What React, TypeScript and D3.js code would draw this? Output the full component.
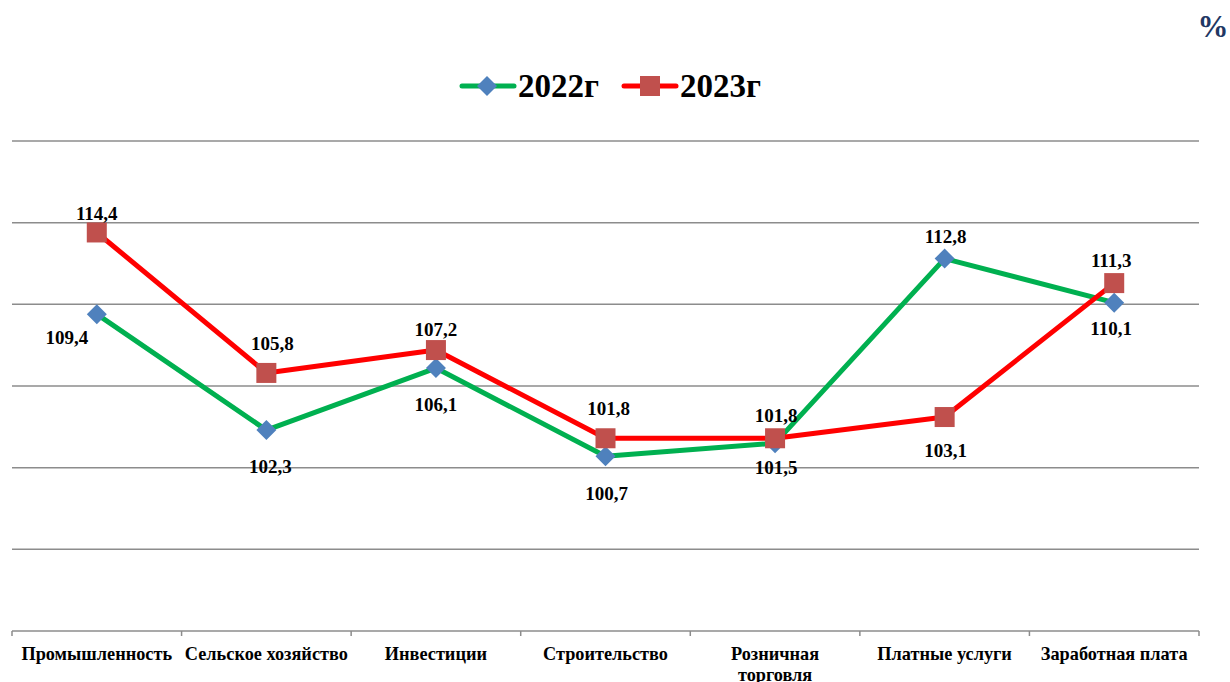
import React from "react";
import * as d3 from "d3";

const categories = [
  "Промышленность",
  "Сельское хозяйство",
  "Инвестиции",
  "Строительство",
  "Розничная торговля",
  "Платные услуги",
  "Заработная плата",
];
const values2022 = [109.4, 102.3, 106.1, 100.7, 101.5, 112.8, 110.1];
const values2023 = [114.4, 105.8, 107.2, 101.8, 101.8, 103.1, 111.3];
const yTicks = [90, 95, 100, 105, 110, 115, 120];
// label placement offsets (dx, dy from marker, pixels)
const labelOff2022: [number, number][] = [[-30, 23], [4, 36], [0, 36], [1, 37], [1, 24], [1, -22], [-3, 26]];
const labelOff2023: [number, number][] = [[0, -19], [6, -30], [0, -21], [3, -30], [1, -23], [1, 33], [-3, -23]];

const W = 1230;
const H = 682;
const FONT = "'Liberation Serif', 'Times New Roman', serif";

export default function App() {
  const x = d3.scaleBand<string>().domain(categories).range([12, 1199]);
  const y = d3.scaleLinear().domain([90, 120]).range([631, 141]);
  const cx = (c: string) => (x(c) as number) + x.bandwidth() / 2;
  const line = d3
    .line<number>()
    .x((_, i) => cx(categories[i]))
    .y((d) => y(d));
  const fmt = (v: number) => v.toFixed(1).replace(".", ",");
  const diamond = (px: number, py: number, r: number) =>
    `M${px},${py - r}L${px + r},${py}L${px},${py + r}L${px - r},${py}Z`;
  const boundaries = [...categories.map((c) => x(c) as number), 1199];

  return (
    <svg width={W} height={H} style={{ position: "absolute", left: 0, top: 0, background: "#fff" }}>
      <style>{`body{margin:0}`}</style>
      {/* gridlines */}
      {yTicks.slice(1).map((t) => (
        <line key={t} x1={12} x2={1199} y1={y(t)} y2={y(t)} stroke="#8c8c8c" strokeWidth={1.5} />
      ))}
      {/* x axis */}
      <line x1={12} x2={1199} y1={y(90)} y2={y(90)} stroke="#8c8c8c" strokeWidth={1.5} />
      {boundaries.map((b, i) => (
        <line key={i} x1={b} x2={b} y1={y(90)} y2={y(90) + 5} stroke="#8c8c8c" strokeWidth={1.5} />
      ))}
      {categories.map((c) => {
        const parts = c === "Розничная торговля" ? ["Розничная", "торговля"] : [c];
        return (
          <text key={c} x={cx(c)} y={660} textAnchor="middle" fontFamily={FONT} fontWeight="bold" fontSize={18.3} fill="#000">
            {parts.map((p, i) => (
              <tspan key={i} x={cx(c)} dy={i === 0 ? 0 : 21}>
                {p}
              </tspan>
            ))}
          </text>
        );
      })}
      {/* lines */}
      <path d={line(values2022) || ""} fill="none" stroke="#00b050" strokeWidth={5} strokeLinejoin="round" />
      <path d={line(values2023) || ""} fill="none" stroke="#ff0000" strokeWidth={5} strokeLinejoin="round" />
      {values2022.map((v, i) => (
        <path key={"d" + i} d={diamond(cx(categories[i]), y(v), 10)} fill="#4f81bd" />
      ))}
      {values2023.map((v, i) => (
        <rect key={"s" + i} x={cx(categories[i]) - 10} y={y(v) - 10} width={20} height={20} fill="#c0504d" />
      ))}
      {/* labels */}
      {values2022.map((v, i) => (
        <text key={"l2" + i} x={cx(categories[i]) + labelOff2022[i][0]} y={y(v) + labelOff2022[i][1]} dy="0.35em"
          textAnchor="middle" fontFamily={FONT} fontWeight="bold" fontSize={19} fill="#000">
          {fmt(v)}
        </text>
      ))}
      {values2023.map((v, i) => (
        <text key={"l3" + i} x={cx(categories[i]) + labelOff2023[i][0]} y={y(v) + labelOff2023[i][1]} dy="0.35em"
          textAnchor="middle" fontFamily={FONT} fontWeight="bold" fontSize={19} fill="#000">
          {fmt(v)}
        </text>
      ))}
      {/* legend */}
      <line x1={462} x2={514} y1={86} y2={86} stroke="#00b050" strokeWidth={5} strokeLinecap="round" />
      <path d={diamond(487, 86, 10)} fill="#4f81bd" />
      <text x={518} y={97} fontFamily={FONT} fontWeight="bold" fontSize={33} fill="#000">2022г</text>
      <line x1={624} x2={676} y1={86} y2={86} stroke="#ff0000" strokeWidth={5} strokeLinecap="round" />
      <rect x={640} y={76} width={20} height={20} fill="#c0504d" />
      <text x={680} y={97} fontFamily={FONT} fontWeight="bold" fontSize={33} fill="#000">2023г</text>
      {/* unit */}
      <text x={1213} y={37} textAnchor="middle" fontFamily={FONT} fontWeight="bold" fontSize={31} fill="#1f3864">%</text>
    </svg>
  );
}
